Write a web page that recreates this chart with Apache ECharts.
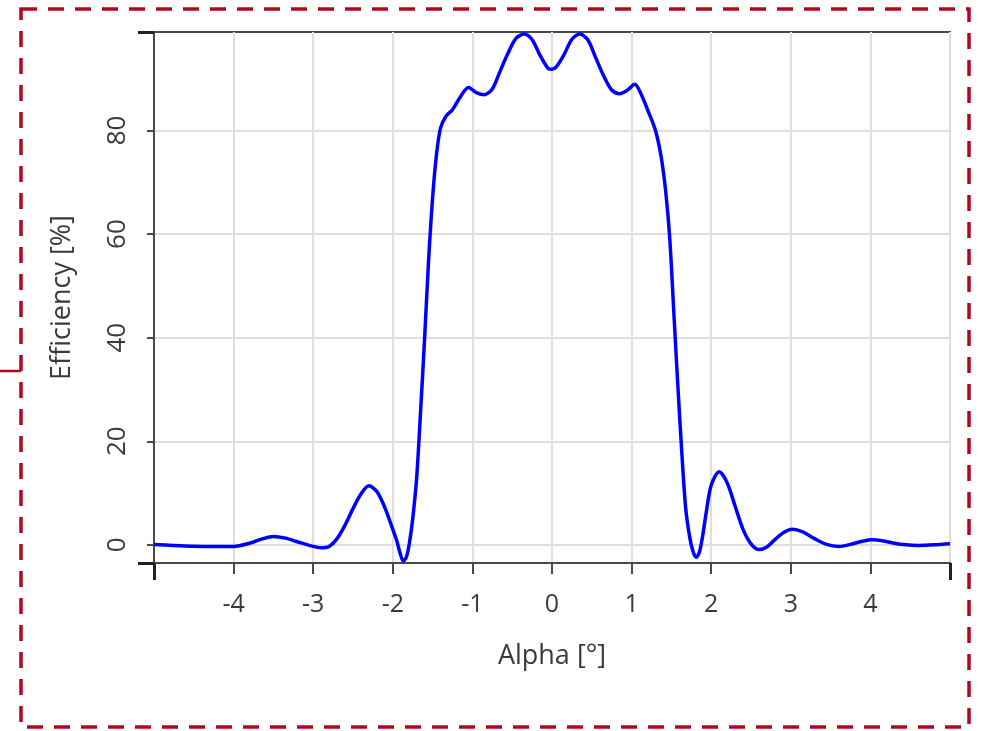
<!DOCTYPE html>
<html>
<head>
<meta charset="utf-8">
<script src="https://cdn.jsdelivr.net/npm/echarts@6/dist/echarts.min.js"></script>
<style>
html,body{margin:0;padding:0;background:#fff;}
#chart{width:982px;height:731px;}
</style>
</head>
<body>
<div id="chart"></div>
<script>
const alpha = [-5.0,-4.75,-4.5,-4.25,-4.0,-3.8,-3.65,-3.5,-3.35,-3.2,-3.05,-2.9,-2.8,-2.7,-2.6,-2.5,-2.4,-2.3,-2.2,-2.1,-2.0,-1.95,-1.91,-1.87,-1.83,-1.79,-1.75,-1.7,-1.65,-1.6,-1.55,-1.5,-1.45,-1.4,-1.33,-1.25,-1.15,-1.05,-0.95,-0.85,-0.75,-0.65,-0.55,-0.45,-0.35,-0.25,-0.15,-0.05,0,0.05,0.15,0.25,0.35,0.45,0.55,0.65,0.75,0.85,0.95,1.04,1.12,1.2,1.3,1.37,1.43,1.48,1.53,1.58,1.63,1.68,1.73,1.77,1.81,1.85,1.89,1.94,2.0,2.1,2.2,2.3,2.4,2.5,2.6,2.7,2.8,2.9,3.02,3.15,3.3,3.45,3.6,3.75,3.9,4.02,4.15,4.3,4.45,4.6,4.8,5.0];
const efficiency = [0.05,-0.1,-0.25,-0.3,-0.3,0.3,1.1,1.6,1.3,0.6,-0.1,-0.55,-0.3,1.2,3.8,7.0,9.8,11.4,10.3,7.2,3.0,0.8,-1.5,-3.1,-2.4,0.5,5.0,13,26,40,55,67,75.5,80.5,82.8,84.0,86.5,88.3,87.3,86.9,88.0,91.5,95.0,97.8,98.6,97.5,94.5,92.0,91.8,92.2,94.6,97.6,98.6,97.5,94.0,90.5,87.8,87.1,87.8,88.9,87.0,84.0,80.0,75,68,59,45,31,18,7,1.5,-1.2,-2.4,-1.5,1.5,6.5,11.5,14.1,12.0,7.5,3.0,0.2,-0.9,-0.4,1.0,2.3,3.0,2.5,1.2,0.1,-0.3,0.1,0.7,1.0,0.8,0.3,0.0,-0.1,0.0,0.2];
const yTicks = [0,20,40,60,80];
const yMin = -3.5, yMax = 99;
const xMin = -5, xMax = 5;

const points = alpha.map((a,i)=>[a,efficiency[i]]);
const font = '"Open Sans", "Noto Sans", sans-serif';
const axisColor = '#4a4a4a';
const textColor = '#3a3a3a';

const chart = echarts.init(document.getElementById('chart'));
chart.setOption({
  animation:false,
  backgroundColor:'#fff',
  grid:{left:154,top:32,right:32,bottom:168,show:true,borderColor:axisColor,borderWidth:2,backgroundColor:'transparent'},
  xAxis:[{
    type:'value',min:xMin,max:xMax,interval:1,
    name:'Alpha [°]',nameLocation:'middle',nameGap:80,
    nameTextStyle:{fontFamily:font,fontSize:27,color:textColor},
    axisLine:{show:true,onZero:false,lineStyle:{color:axisColor,width:2}},
    axisTick:{show:true,inside:false,length:11,lineStyle:{color:axisColor,width:2}},
    axisLabel:{showMinLabel:false,showMaxLabel:false,margin:29,fontFamily:font,fontSize:25,color:textColor},
    splitLine:{show:true,lineStyle:{color:'#dedede',width:2}}
  },{
    type:'value',min:xMin,max:xMax,interval:10,position:'bottom',
    axisLine:{show:false,onZero:false},
    axisTick:{show:true,length:17,lineStyle:{color:'#222',width:3}},
    axisLabel:{show:false},splitLine:{show:false}
  }],
  yAxis:[{
    type:'value',min:yMin,max:yMax,
    name:'Efficiency [%]',nameLocation:'middle',nameGap:78,nameRotate:90,
    nameTextStyle:{fontFamily:font,fontSize:27,color:textColor},
    axisLine:{show:true,onZero:false,lineStyle:{color:axisColor,width:2}},
    axisTick:{show:true,length:7,customValues:yTicks,lineStyle:{color:axisColor,width:2}},
    axisLabel:{rotate:90,margin:23,customValues:yTicks,fontFamily:font,fontSize:26,color:textColor},
    splitLine:{show:true,lineStyle:{color:'#dedede',width:2}}
  },{
    type:'value',min:yMin,max:yMax,position:'left',
    axisLine:{show:false,onZero:false},
    axisTick:{show:true,length:16,customValues:[yMin,yMax],lineStyle:{color:'#222',width:3}},
    axisLabel:{show:false},splitLine:{show:false}
  }],
  series:[{
    type:'line',data:points,xAxisIndex:0,yAxisIndex:0,
    showSymbol:false,smooth:0.3,sampling:'none',clip:true,
    lineStyle:{color:'#0000ff',width:3.5}
  }],
  graphic:[
    {type:'rect',shape:{x:21,y:9,width:948,height:718},
     style:{fill:'none',stroke:'#b0081e',lineWidth:3.5,lineDash:[16,11]},silent:true},
    {type:'line',shape:{x1:0,y1:371,x2:21,y2:371},style:{stroke:'#b0081e',lineWidth:2.5},silent:true}
  ]
});
</script>
</body>
</html>
